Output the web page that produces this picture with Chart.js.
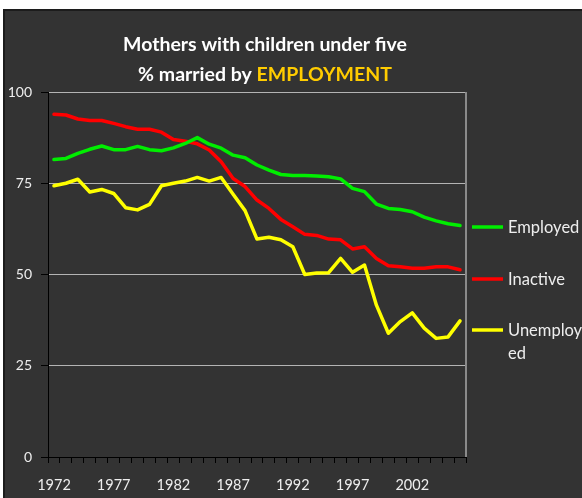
<!DOCTYPE html>
<html>
<head>
<meta charset="utf-8">
<script src="https://cdn.jsdelivr.net/npm/chart.js@4"></script>
<style>
  html, body { margin: 0; padding: 0; background: #fff; }
  #wrap { width: 582px; height: 498px; }
</style>
</head>
<body>
<div id="wrap"><canvas id="mothersChart" width="582" height="498"></canvas></div>
<script>
const years = [];
for (let y = 1972; y <= 2006; y++) years.push(String(y));

const employed = [81.5, 81.8, 83.2, 84.3, 85.2, 84.2, 84.2, 85.1, 84.2, 83.9, 84.7,
  85.9, 87.5, 85.7, 84.6, 82.7, 82.0, 80.0, 78.6, 77.4, 77.1, 77.1, 77.0, 76.8, 76.2,
  73.6, 72.7, 69.3, 68.1, 67.8, 67.2, 65.7, 64.7, 63.9, 63.4];
const inactive = [93.9, 93.7, 92.6, 92.2, 92.2, 91.4, 90.5, 89.8, 89.8, 89.0, 87.0,
  86.5, 85.8, 84.1, 80.9, 76.3, 74.1, 70.4, 68.1, 65.1, 63.1, 61.0, 60.7, 59.7, 59.5,
  57.0, 57.6, 54.4, 52.4, 52.1, 51.7, 51.7, 52.1, 52.1, 51.3];
const unemployed = [74.3, 75.0, 76.1, 72.6, 73.3, 72.2, 68.3, 67.7, 69.2, 74.3, 75.0,
  75.6, 76.6, 75.6, 76.6, 72.0, 67.5, 59.7, 60.2, 59.5, 57.6, 50.0, 50.4, 50.5, 54.4,
  50.6, 52.6, 41.6, 33.9, 37.1, 39.5, 35.3, 32.5, 32.9, 37.3];

const legendLines = [['Employed'], ['Inactive'], ['Unemploy', 'ed']];
const fontName = 'Lato, "Open Sans", sans-serif';
const textColor = '#eeeeee';

// background, title, right border and legend
const decor = {
  id: 'decor',
  beforeDraw(chart) {
    const c = chart.ctx;
    c.save();
    c.fillStyle = '#ffffff';
    c.fillRect(0, 0, chart.width, chart.height);
    c.fillStyle = '#1c1c1c';
    c.fillRect(3, 9, chart.width - 3, chart.height - 9);
    c.fillStyle = '#333333';
    c.fillRect(5, 11, chart.width - 5, chart.height - 11);
    c.restore();
  },
  afterDraw(chart) {
    const c = chart.ctx;
    const a = chart.chartArea;
    c.save();
    // plot area right border
    c.strokeStyle = '#8a8a8a';
    c.lineWidth = 2;
    c.beginPath();
    c.moveTo(a.right, a.top);
    c.lineTo(a.right, a.bottom);
    c.stroke();

    // title
    c.font = 'bold 19.5px ' + fontName;
    c.textBaseline = 'alphabetic';
    c.textAlign = 'center';
    c.fillStyle = '#ffffff';
    c.fillText('Mothers with children under five', 265, 51);
    const p1 = '% married by ', p2 = 'EMPLOYMENT';
    const w1 = c.measureText(p1).width, w2 = c.measureText(p2).width;
    const x0 = 265 - (w1 + w2) / 2;
    c.textAlign = 'left';
    c.fillText(p1, x0, 81);
    c.fillStyle = '#ffcc00';
    c.fillText(p2, x0 + w1, 81);

    // legend
    const ys = [227, 279, 330];
    c.font = '16.5px ' + fontName;
    c.textBaseline = 'middle';
    chart.data.datasets.forEach((ds, i) => {
      c.strokeStyle = ds.borderColor;
      c.lineWidth = 3.5;
      c.beginPath();
      c.moveTo(472, ys[i]);
      c.lineTo(503, ys[i]);
      c.stroke();
      c.fillStyle = textColor;
      legendLines[i].forEach((t, j) => c.fillText(t, 508, ys[i] + 1 + j * 23));
    });
    c.restore();
  }
};

const ctx = document.getElementById('mothersChart');

new Chart(ctx, {
  type: 'line',
  data: {
    labels: years,
    datasets: [
      { label: 'Employed', data: employed, borderColor: '#00ee00' },
      { label: 'Inactive', data: inactive, borderColor: '#ff0000' },
      { label: 'Unemployed', data: unemployed, borderColor: '#ffff00' }
    ]
  },
  options: {
    responsive: false,
    animation: false,
    layout: { padding: { top: 92, right: 116, left: 0, bottom: 0 } },
    elements: {
      line: { borderWidth: 3.5, tension: 0, borderCapStyle: 'round', borderJoinStyle: 'round' },
      point: { radius: 0 }
    },
    plugins: { legend: { display: false }, title: { display: false }, tooltip: { enabled: false } },
    scales: {
      x: {
        offset: true,
        grid: { offset: true, drawOnChartArea: false, tickColor: '#000000', tickLength: 6 },
        border: { color: '#000000', width: 1 },
        ticks: {
          autoSkip: false,
          maxRotation: 0,
          padding: 14,
          color: textColor,
          font: { family: fontName, size: 14.5 },
          callback: function (v, i) { return i % 5 === 0 ? this.getLabelForValue(v) : ''; }
        },
        afterFit(s) { s.height = 41; }
      },
      y: {
        min: 0,
        max: 100,
        ticks: { stepSize: 25, padding: 9, color: textColor, font: { family: fontName, size: 14 } },
        grid: {
          color: c => (c.tick && c.tick.value === 0 ? 'rgba(0,0,0,0)' : '#b4b4b4'),
          tickColor: '#000000',
          tickLength: 7,
          lineWidth: 1
        },
        border: { color: '#000000', width: 1 },
        afterFit(s) { s.width = 48; }
      }
    }
  },
  plugins: [decor]
});
</script>
</body>
</html>
